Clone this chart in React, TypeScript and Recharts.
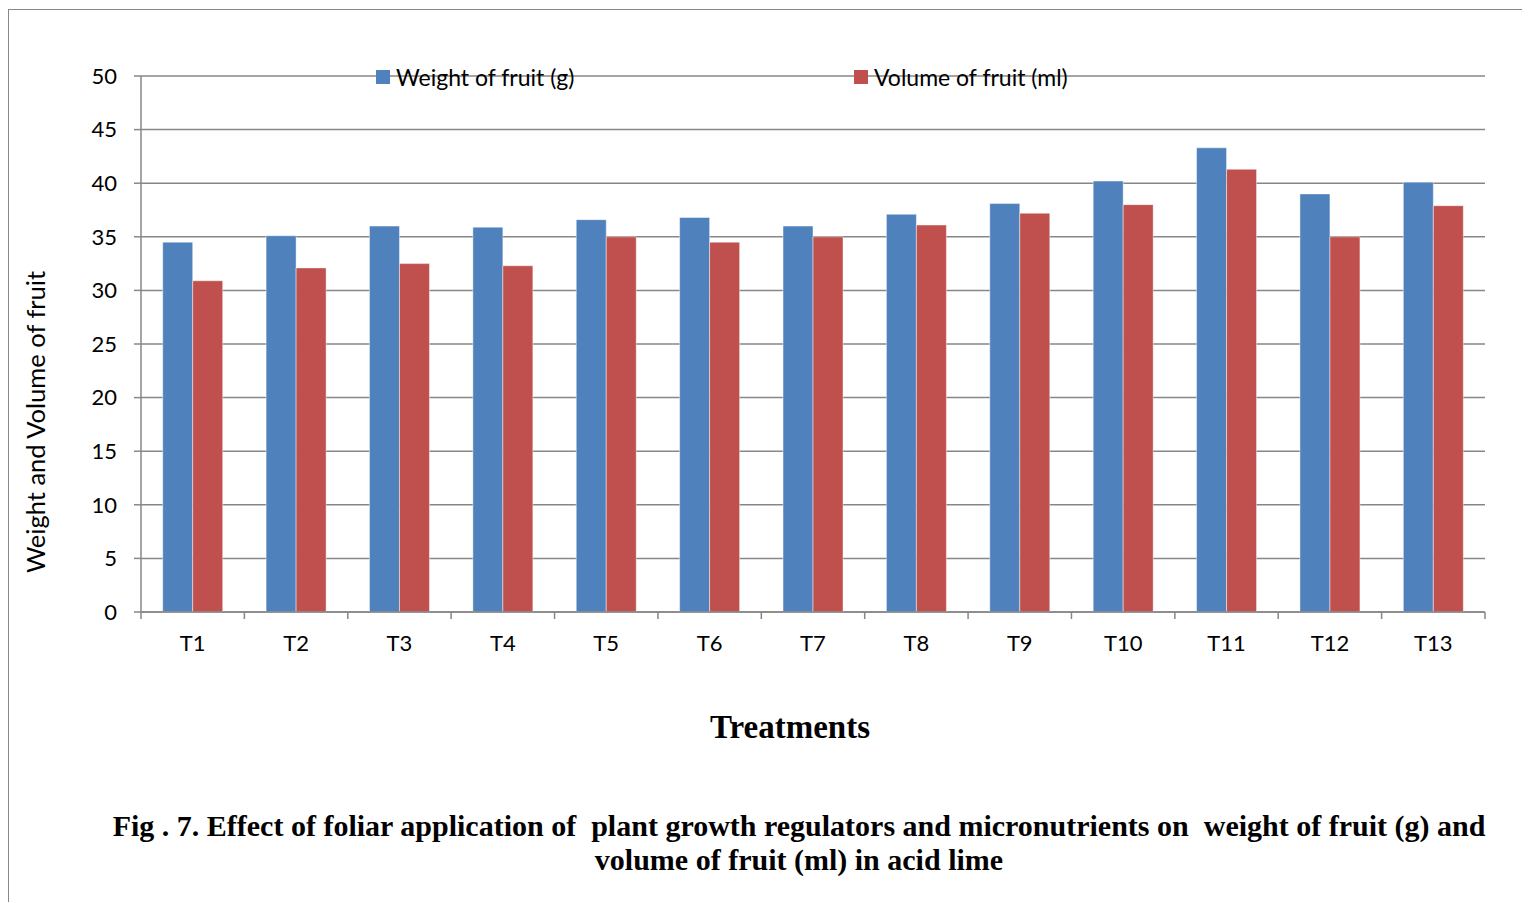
import React from 'react';
import { BarChart, Bar, XAxis, YAxis, CartesianGrid } from 'recharts';

// Treatments on the x axis
const treatments = ['T1', 'T2', 'T3', 'T4', 'T5', 'T6', 'T7', 'T8', 'T9', 'T10', 'T11', 'T12', 'T13'];
// Weight of fruit (g)
const fruitWeight = [34.5, 35.1, 36.0, 35.9, 36.6, 36.8, 36.0, 37.1, 38.1, 40.2, 43.3, 39.0, 40.1];
// Volume of fruit (ml)
const fruitVolume = [30.9, 32.1, 32.5, 32.3, 35.0, 34.5, 35.0, 36.1, 37.2, 38.0, 41.3, 35.0, 37.9];
// Value axis ticks
const yTicks = [0, 5, 10, 15, 20, 25, 30, 35, 40, 45, 50];

const data = treatments.map((t, i) => ({
  name: t,
  weight: fruitWeight[i],
  volume: fruitVolume[i],
}));

const CHART_W = 1522;
const CHART_H = 664;
const MARGIN = { top: 68, right: 45, bottom: 0, left: 0 };
const Y_AXIS_W = 133;
const PLOT_W = CHART_W - MARGIN.left - MARGIN.right - Y_AXIS_W;

const BLUE = '#4F81BD';
const RED = '#C0504D';
const AXIS_GREY = '#878787';
const SANS = 'Lato, "Open Sans", sans-serif';
const SERIF = '"Liberation Serif", "Times New Roman", serif';

// Category ticks: label at the centre, tick marks on the category boundaries
const CategoryTick = (props: any) => {
  const { x, y, payload, index } = props;
  const band = PLOT_W / treatments.length;
  const isLast = index === treatments.length - 1;
  return (
    <g>
      <line x1={x - band / 2} x2={x - band / 2} y1={y} y2={y + 7} stroke={AXIS_GREY} strokeWidth={1.5} />
      {isLast && (
        <line x1={x + band / 2} x2={x + band / 2} y1={y} y2={y + 7} stroke={AXIS_GREY} strokeWidth={1.5} />
      )}
      <text x={x} y={y + 39} textAnchor="middle" fill="#000" fontSize={22} fontFamily={SANS}>
        {payload.value}
      </text>
    </g>
  );
};

const legendItems = [
  { label: 'Weight of fruit (g)', color: BLUE, left: 0 },
  { label: 'Volume of fruit (ml)', color: RED, left: 478 },
];

const ChartLegend = () => (
  <div style={{ position: 'absolute', left: 368, top: 55, width: 800, height: 28 }}>
    {legendItems.map((it) => (
      <div
        key={it.label}
        style={{
          position: 'absolute',
          left: it.left,
          top: 0,
          display: 'flex',
          alignItems: 'center',
          whiteSpace: 'nowrap',
          fontFamily: SANS,
          fontSize: 23,
          color: '#000',
          lineHeight: '28px',
        }}
      >
        <span style={{ display: 'inline-block', width: 14, height: 14, background: it.color, marginRight: 6 }} />
        <span>{it.label}</span>
      </div>
    ))}
  </div>
);

export default function App() {
  return (
    <div style={{ position: 'relative', width: 1522, height: 894, overflow: 'hidden' }}>
      <div
        style={{
          position: 'absolute',
          left: 0,
          top: 1,
          width: 1540,
          height: 900,
          borderTop: `1.5px solid ${AXIS_GREY}`,
          borderLeft: `1.5px solid ${AXIS_GREY}`,
        }}
      />
      <div style={{ position: 'absolute', left: 0, top: 0 }}>
        <BarChart
          width={CHART_W}
          height={CHART_H}
          data={data}
          margin={MARGIN}
          barCategoryGap="21%"
          barGap={0}
        >
          <CartesianGrid vertical={false} stroke={AXIS_GREY} strokeWidth={1.5} />
          <XAxis
            dataKey="name"
            height={60}
            axisLine={{ stroke: AXIS_GREY, strokeWidth: 1.5 }}
            tickLine={false}
            tickSize={0}
            tickMargin={0}
            interval={0}
            tick={<CategoryTick />}
          />
          <YAxis
            width={Y_AXIS_W}
            domain={[0, 50]}
            ticks={yTicks}
            interval={0}
            axisLine={{ stroke: AXIS_GREY, strokeWidth: 1.5 }}
            tickLine={{ stroke: AXIS_GREY, strokeWidth: 1.5 }}
            tickSize={7}
            tickMargin={17}
            tick={{ fill: '#000', fontSize: 22, fontFamily: SANS }}
          />
          <Bar
            dataKey="weight"
            name="Weight of fruit (g)"
            fill={BLUE}
            stroke="rgba(255,255,255,0.45)"
            strokeWidth={1}
            isAnimationActive={false}
          />
          <Bar
            dataKey="volume"
            name="Volume of fruit (ml)"
            fill={RED}
            stroke="rgba(255,255,255,0.45)"
            strokeWidth={1}
            isAnimationActive={false}
          />
        </BarChart>
      </div>

      <ChartLegend />

      {/* value axis title */}
      <div
        style={{
          position: 'absolute',
          left: 27,
          top: 414,
          transform: 'translate(-50%, -50%) rotate(-90deg)',
          whiteSpace: 'nowrap',
          fontFamily: SANS,
          fontSize: 25.5,
          color: '#000',
        }}
      >
        Weight and Volume of fruit
      </div>

      {/* category axis title */}
      <div
        style={{
          position: 'absolute',
          left: 782,
          top: 701,
          transform: 'translateX(-50%)',
          whiteSpace: 'nowrap',
          fontFamily: SERIF,
          fontWeight: 'bold',
          fontSize: 33,
          color: '#000',
        }}
      >
        Treatments
      </div>

      {/* figure caption */}
      <div
        style={{
          position: 'absolute',
          left: 791,
          top: 801,
          transform: 'translateX(-50%)',
          textAlign: 'center',
          whiteSpace: 'pre',
          fontFamily: SERIF,
          fontWeight: 'bold',
          fontSize: 30,
          lineHeight: '34px',
          color: '#000',
        }}
      >
        {'Fig . 7. Effect of foliar application of  plant growth regulators and micronutrients on  weight of fruit (g) and\nvolume of fruit (ml) in acid lime'}
      </div>
    </div>
  );
}
